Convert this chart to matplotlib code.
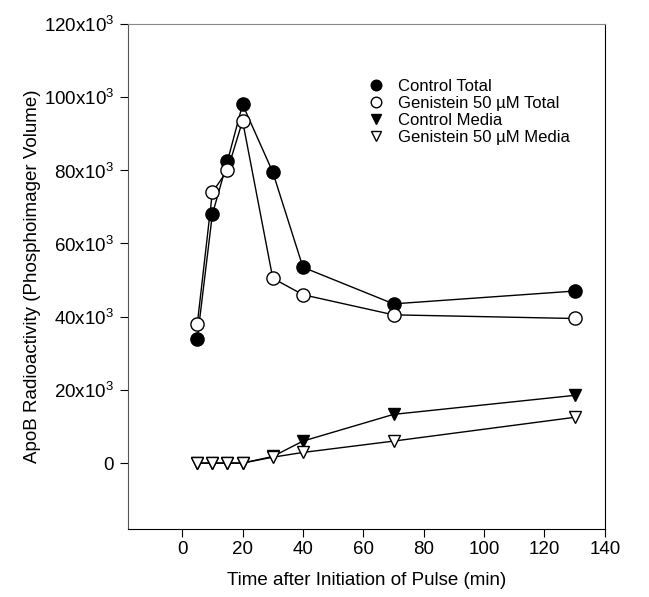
import matplotlib
matplotlib.use('Agg')
import matplotlib.pyplot as plt

plt.rcParams['font.family'] = ['Liberation Sans', 'DejaVu Sans']
plt.rcParams['mathtext.fontset'] = 'custom'
plt.rcParams['mathtext.rm'] = 'Liberation Sans'

# time points (min)
time = [5, 10, 15, 20, 30, 40, 70, 130]
# values in thousands
control_total = [34, 68, 82.5, 98, 79.5, 53.5, 43.5, 47]
genistein_total = [38, 74, 80, 93.5, 50.5, 46, 40.5, 39.5]
control_media = [0, 0, 0, 0, 1.8, 6, 13.3, 18.5]
genistein_media = [0, 0, 0, 0, 1.6, 2.9, 6, 12.5]

yticks = [0, 20, 40, 60, 80, 100, 120]
ytick_labels = ['0'] + ['%dx10$^3$' % v for v in yticks[1:]]
xticks = [0, 20, 40, 60, 80, 100, 120, 140]

fig = plt.figure(figsize=(6.49, 5.97), dpi=100)
ax = fig.add_axes([0.197, 0.114, 0.735, 0.846])

k = 1000.0
ax.plot(time, [v * k for v in control_total], '-o', color='black', mfc='black',
        mec='black', ms=9.5, lw=1, label='Control Total')
ax.plot(time, [v * k for v in genistein_total], '-o', color='black', mfc='white',
        mec='black', ms=9.5, lw=1, label='Genistein 50 \u00b5M Total')
ax.plot(time, [v * k for v in control_media], '-v', color='black', mfc='black',
        mec='black', ms=9, lw=1, label='Control Media')
ax.plot(time, [v * k for v in genistein_media], '-v', color='black', mfc='white',
        mec='black', ms=9, lw=1, label='Genistein 50 \u00b5M Media')

ax.set_xlim(-18, 140)
ax.set_ylim(-18000, 120000)
ax.set_xticks(xticks)
ax.set_yticks([v * k for v in yticks])
ax.set_yticklabels(ytick_labels)
ax.tick_params(direction='out', length=6, labelsize=13.5)
ax.tick_params(axis='x', pad=3)
ax.tick_params(axis='y', pad=4)

ax.spines['top'].set_color('#888888')
ax.spines['left'].set_color('#555555')

ax.set_xlabel('Time after Initiation of Pulse (min)', fontsize=13.5, labelpad=10)
ax.set_ylabel('ApoB Radioactivity (Phosphoimager Volume)', fontsize=13.5, labelpad=2)

leg = ax.legend(loc='upper left', bbox_to_anchor=(0.468, 0.92), frameon=False,
                fontsize=12, handlelength=1.2, labelspacing=0.12, handletextpad=0.7,
                markerscale=0.8)
for h in leg.legend_handles:
    h.set_linestyle('none')

fig.savefig('out.png', dpi=100)
